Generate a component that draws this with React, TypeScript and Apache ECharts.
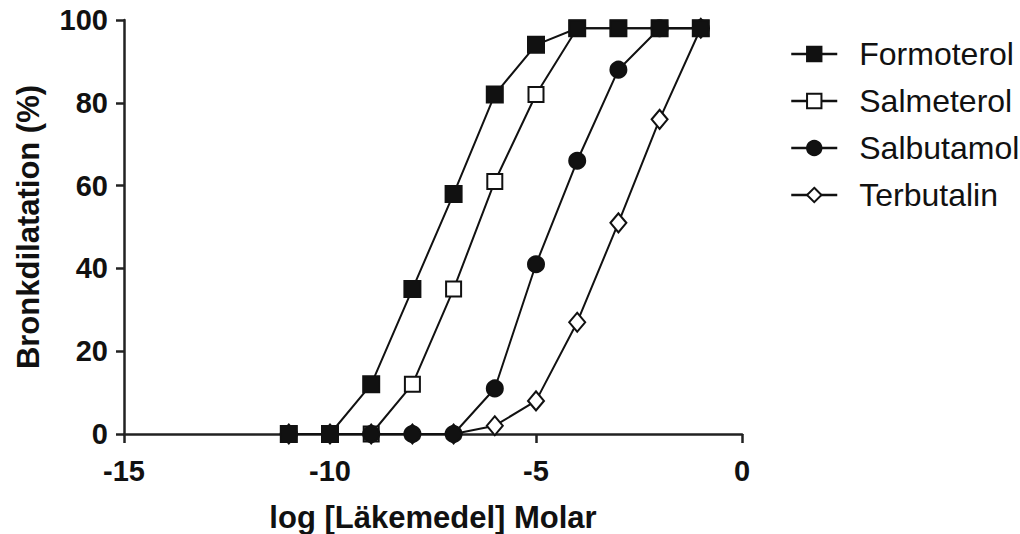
import React, { useEffect, useRef } from "react";
import * as echarts from "echarts";

const logDose = [-11, -10, -9, -8, -7, -6, -5, -4, -3, -2, -1];
const formoterol = [0, 0, 12, 35, 58, 82, 94, 98, 98, 98, 98];
const salmeterol = [0, 0, 0, 12, 35, 61, 82, 98, 98, 98, 98];
const salbutamol = [0, 0, 0, 0, 0, 11, 41, 66, 88, 98, 98];
const terbutalin = [0, 0, 0, 0, 0, 2, 8, 27, 51, 76, 98];
const seriesNames = ["Formoterol", "Salmeterol", "Salbutamol", "Terbutalin"];
const xTicks = { min: -15, max: 0, interval: 5 };
const yTicks = { min: 0, max: 100, interval: 20 };

const FONT = "'Liberation Sans', Arial, Helvetica, sans-serif";

export default function App() {
  const ref = useRef<HTMLDivElement>(null);
  useEffect(() => {
    document.body.style.margin = "0";
    const chart = echarts.init(ref.current!, null, { renderer: "svg" });
    const pairs = (ys: number[]) => logDose.map((x, i) => [x, ys[i]]);
    const mk = (name: string, ys: number[], symbol: string, size: any, z: number) => ({
      name,
      type: "line",
      data: pairs(ys),
      symbol,
      symbolSize: size,
      z,
      lineStyle: { color: "#111", width: 2 },
      itemStyle: { color: "#111", borderColor: "#111", borderWidth: 2 },
      emphasis: { disabled: true },
    });
    chart.setOption({
      animation: false,
      backgroundColor: "#fff",
      grid: { left: 124, right: 278, top: 20, bottom: 100, containLabel: false, outerBoundsMode: "none" },
      legend: {
        data: seriesNames,
        orient: "vertical",
        left: 785,
        top: 33,
        itemWidth: 46,
        itemHeight: 18,
        itemGap: 15,
        lineStyle: { width: 2.5 },
        textStyle: {
          fontFamily: FONT,
          fontSize: 32,
          lineHeight: 32,
          color: "#111",
          padding: [0, 0, 0, 17],
        },
      },
      xAxis: {
        type: "value",
        min: xTicks.min,
        max: xTicks.max,
        interval: xTicks.interval,
        name: "log [Läkemedel] Molar",
        nameLocation: "middle",
        nameGap: 68,
        nameTextStyle: { fontFamily: FONT, fontSize: 31, fontWeight: "bold", color: "#111" },
        axisLine: { onZero: false, lineStyle: { color: "#222", width: 2.5 } },
        axisTick: { length: 9, lineStyle: { color: "#222", width: 2.5 } },
        axisLabel: { fontFamily: FONT, fontSize: 29, fontWeight: "bold", color: "#111", margin: 22 },
        splitLine: { show: false },
      },
      yAxis: {
        type: "value",
        min: yTicks.min,
        max: yTicks.max,
        interval: yTicks.interval,
        name: "Bronkdilatation (%)",
        nameLocation: "middle",
        nameGap: 80,
        nameRotate: 90,
        nameTextStyle: { fontFamily: FONT, fontSize: 31, fontWeight: "bold", color: "#111" },
        axisLine: { show: true, onZero: false, lineStyle: { color: "#222", width: 2.5 } },
        axisTick: { show: true, length: 8, lineStyle: { color: "#222", width: 2.5 } },
        axisLabel: { fontFamily: FONT, fontSize: 29, fontWeight: "bold", color: "#111", margin: 16 },
        splitLine: { show: false },
      },
      series: [
        mk("Salmeterol", salmeterol, "emptyRect", 15, 2),
        mk("Terbutalin", terbutalin, "emptyDiamond", [16, 19], 3),
        mk("Salbutamol", salbutamol, "circle", 16, 4),
        mk("Formoterol", formoterol, "rect", 16, 5),
      ],
    });
    return () => chart.dispose();
  }, []);
  return <div ref={ref} style={{ position: "absolute", left: 0, top: 0, width: 1020, height: 534 }} />;
}
